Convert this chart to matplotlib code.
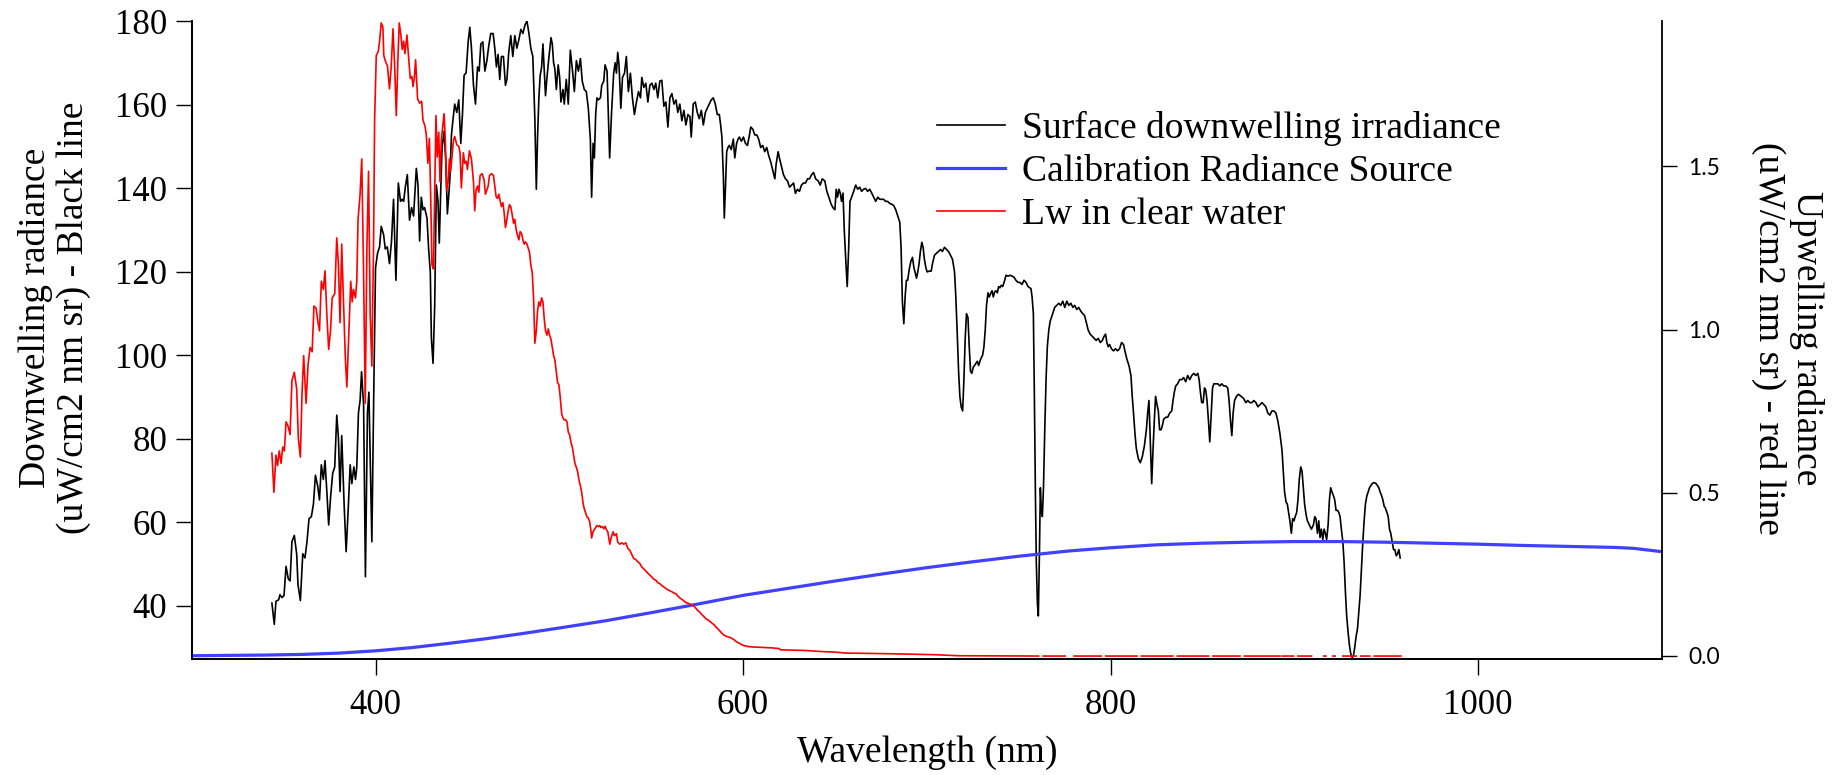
import numpy as np
import matplotlib
matplotlib.use("Agg")
import matplotlib.pyplot as plt

plt.rcParams['font.family'] = ['Liberation Serif', 'DejaVu Serif']

# Surface downwelling irradiance (left axis)
black_wl = [343.6, 344.9, 345.8, 347.3, 348.0, 349.1, 350.2, 351.3, 352.5, 353.5, 354.5, 355.8, 357.1, 357.8, 359.1,
            360.4, 361.6, 362.7, 363.8, 365.1, 366.2, 367.3, 368.5, 369.5, 370.5, 371.6, 372.5, 373.5, 374.5, 375.6,
            376.7, 377.8, 378.9, 379.8, 380.7, 381.6, 382.9, 384.0, 385.1, 386.2, 387.1, 388.2, 389.1, 389.8, 390.7,
            391.6, 392.4, 393.5, 394.5, 395.6, 396.4, 398.0, 399.1, 400.0, 401.1, 402.2, 403.1, 404.4, 405.3, 406.4,
            407.6, 408.7, 409.8, 411.1, 412.4, 413.6, 414.5, 415.3, 416.2, 417.3, 418.5, 419.6, 420.7, 422.2, 423.1,
            424.0, 424.9, 425.8, 426.7, 428.0, 428.9, 429.8, 430.4, 431.3, 432.2, 433.1, 434.0, 434.7, 435.5, 436.2,
            437.3, 438.2, 439.1, 440.4, 441.3, 442.2, 443.1, 444.2, 445.3, 446.4, 447.3, 448.2, 449.3, 450.4, 451.3,
            452.2, 453.3, 454.4, 455.5, 456.4, 457.3, 458.4, 459.5, 460.6, 461.6, 462.7, 464.0, 464.9, 465.8, 466.7,
            467.6, 468.5, 469.6, 470.7, 471.5, 472.5, 473.6, 474.7, 475.8, 476.9, 478.0, 479.1, 480.2, 481.3, 482.4,
            483.5, 484.5, 485.6, 486.7, 487.5, 488.2, 488.9, 489.6, 490.4, 491.1, 491.8, 492.5, 493.3, 494.4, 495.5,
            496.2, 496.9, 497.6, 498.4, 499.4, 500.2, 500.9, 502.0, 502.7, 503.8, 504.9, 506.0, 507.1, 508.2, 509.3,
            510.4, 511.5, 512.5, 513.6, 514.7, 515.8, 516.9, 517.6, 518.4, 519.1, 519.8, 520.5, 521.3, 522.4, 523.1,
            524.2, 524.9, 526.0, 527.4, 528.5, 529.6, 530.4, 531.1, 531.8, 532.5, 533.5, 534.4, 535.5, 536.5, 537.6,
            538.7, 539.8, 540.9, 542.0, 543.1, 544.2, 544.9, 546.0, 547.1, 548.2, 549.3, 550.4, 551.5, 552.5, 553.6,
            554.7, 555.8, 556.9, 558.0, 559.1, 560.2, 561.3, 562.4, 563.5, 564.5, 565.6, 566.7, 567.8, 568.9, 570.0,
            571.1, 571.8, 572.9, 574.0, 575.1, 576.2, 577.3, 578.4, 579.5, 580.5, 581.6, 582.7, 583.8, 584.9, 586.0,
            587.1, 587.8, 588.5, 589.3, 589.8, 590.4, 591.1, 591.8, 592.5, 593.6, 594.7, 595.5, 596.5, 597.3, 598.0,
            599.1, 600.2, 601.3, 602.4, 603.5, 604.2, 605.3, 606.4, 607.5, 608.5, 609.6, 610.7, 611.8, 612.9, 614.0,
            615.1, 616.2, 617.3, 618.0, 619.1, 619.8, 620.9, 622.0, 623.1, 624.2, 625.3, 626.4, 627.5, 628.5, 629.6,
            630.7, 631.8, 632.9, 634.0, 635.1, 636.2, 637.3, 638.4, 639.5, 640.9, 642.0, 643.1, 644.5, 645.6, 646.7,
            647.8, 648.9, 650.0, 650.7, 651.4, 652.2, 652.9, 653.6, 654.4, 655.1, 656.0, 656.7, 657.5, 658.2, 659.1,
            660.2, 661.3, 662.4, 663.5, 664.5, 665.6, 666.7, 667.8, 668.9, 670.0, 671.1, 672.2, 673.3, 674.4, 675.4,
            676.5, 677.6, 678.7, 679.8, 681.0, 682.0, 683.1, 684.2, 685.3, 686.0, 686.7, 687.5, 688.2, 688.9, 689.6,
            690.4, 691.3, 692.2, 693.0, 693.6, 694.4, 695.1, 695.8, 696.5, 697.3, 698.0, 698.7, 699.5, 700.2, 701.3,
            702.4, 703.1, 704.2, 705.3, 706.4, 707.5, 708.5, 709.6, 710.7, 711.8, 712.9, 714.0, 715.1, 715.8, 716.5,
            717.3, 718.0, 718.7, 719.5, 720.2, 720.9, 721.6, 722.4, 723.1, 723.8, 724.5, 725.3, 726.0, 726.7, 727.5,
            728.2, 729.3, 730.4, 731.1, 731.8, 732.5, 733.3, 734.0, 734.7, 735.5, 736.2, 736.9, 737.6, 738.4, 739.1,
            739.8, 740.5, 741.3, 742.4, 743.1, 744.2, 745.3, 746.4, 747.5, 748.5, 749.6, 750.7, 751.8, 752.9, 754.0,
            755.1, 756.7, 757.3, 758.0, 758.5, 759.1, 759.6, 760.2, 760.7, 761.3, 761.8, 762.4, 762.9, 763.5, 764.2,
            764.9, 765.6, 766.4, 767.1, 767.8, 768.5, 769.6, 770.7, 771.8, 772.9, 774.0, 775.1, 776.2, 777.3, 778.4,
            779.5, 780.5, 781.6, 782.7, 783.8, 784.9, 785.8, 786.7, 787.8, 788.9, 790.0, 791.1, 792.2, 793.3, 794.4,
            795.5, 796.5, 797.3, 798.0, 798.7, 799.5, 800.5, 801.6, 802.7, 803.8, 804.9, 806.0, 807.1, 807.8, 808.9,
            810.0, 811.1, 811.8, 812.5, 813.3, 814.0, 815.1, 816.2, 817.3, 818.4, 819.5, 820.2, 820.9, 821.6, 822.4,
            823.1, 823.8, 824.5, 825.3, 826.0, 826.7, 827.5, 828.2, 828.9, 830.0, 831.1, 832.2, 833.3, 834.0, 834.7,
            835.5, 836.5, 837.6, 838.7, 839.8, 840.9, 842.0, 843.1, 844.2, 845.3, 846.4, 847.5, 848.2, 848.9, 849.6,
            850.4, 851.1, 851.8, 852.5, 853.3, 854.0, 854.7, 855.5, 856.2, 857.3, 858.4, 859.5, 860.5, 861.6, 862.7,
            863.8, 864.5, 865.3, 866.0, 866.7, 867.5, 868.5, 869.6, 871.1, 872.4, 873.6, 874.7, 875.8, 876.9, 878.0,
            879.1, 880.2, 881.3, 882.4, 883.5, 884.5, 885.6, 886.7, 887.8, 888.9, 890.0, 891.1, 892.2, 893.3, 894.0,
            894.7, 895.5, 896.2, 896.9, 897.6, 898.4, 899.1, 899.8, 900.5, 901.3, 902.0, 902.7, 903.5, 904.2, 904.9,
            905.6, 906.4, 907.1, 908.2, 909.3, 910.4, 911.1, 911.8, 912.6, 913.3, 914.0, 914.7, 915.5, 916.2, 916.9,
            917.6, 918.4, 919.1, 919.8, 920.5, 921.3, 922.0, 922.7, 923.5, 924.2, 924.9, 925.6, 926.4, 927.1, 927.8,
            928.5, 929.3, 930.0, 930.7, 931.5, 932.2, 932.9, 933.6, 934.4, 935.1, 935.8, 936.5, 937.3, 938.0, 938.7,
            939.5, 940.2, 940.9, 941.6, 942.4, 943.1, 943.8, 944.5, 945.3, 946.0, 946.7, 947.5, 948.2, 948.9, 949.6,
            950.4, 951.1, 951.8, 952.5, 953.3, 954.0, 954.7, 955.5, 956.2, 956.9, 957.6]
black_val = [40.6, 35.5, 41.0, 41.4, 42.6, 41.9, 42.4, 49.4, 46.4, 45.9, 55.3, 56.8, 52.3, 45.0, 41.2,
             52.4, 51.4, 55.3, 60.8, 61.3, 64.3, 71.2, 68.7, 65.3, 73.7, 70.2, 74.7, 67.3, 59.3, 66.3,
             71.7, 73.2, 85.6, 80.2, 67.3, 80.7, 64.3, 52.9, 62.8, 73.7, 69.2, 73.2, 70.2, 73.2, 86.1,
             89.1, 96.0, 88.1, 46.9, 86.1, 91.1, 55.3, 93.1, 120.9, 124.4, 125.9, 130.8, 128.8, 125.4, 125.9,
             121.9, 127.3, 137.3, 117.9, 141.2, 136.8, 137.3, 136.8, 140.2, 143.2, 132.3, 135.3, 133.3, 144.7, 140.7,
             127.3, 137.8, 134.8, 135.3, 132.8, 125.4, 119.9, 104.0, 98.0, 111.9, 140.7, 136.8, 126.8, 139.7, 149.7,
             153.6, 146.7, 133.8, 141.7, 152.6, 156.6, 160.1, 158.1, 161.1, 150.7, 157.6, 167.0, 167.6, 175.0, 178.5,
             173.5, 164.6, 160.1, 169.0, 168.0, 174.5, 175.0, 168.0, 170.5, 174.0, 177.0, 177.0, 173.5, 169.0, 172.0,
             166.0, 171.5, 171.5, 164.6, 166.0, 172.5, 176.5, 171.5, 176.5, 173.5, 175.5, 178.0, 177.0, 179.0, 180.0,
             177.0, 173.5, 171.5, 156.6, 139.7, 152.6, 161.6, 167.0, 169.0, 174.5, 168.5, 162.1, 166.5, 171.5, 176.0,
             174.5, 170.0, 168.5, 163.6, 169.5, 166.5, 160.6, 163.6, 160.1, 166.0, 160.1, 173.0, 168.5, 163.1, 170.5,
             168.0, 171.0, 165.6, 163.6, 163.1, 159.1, 151.7, 137.8, 150.7, 147.2, 157.6, 161.6, 161.1, 161.6, 164.6,
             165.6, 169.5, 168.0, 147.2, 158.6, 167.5, 170.0, 167.5, 172.5, 169.5, 159.1, 166.5, 167.5, 171.5, 163.1,
             167.5, 161.6, 157.6, 160.6, 163.1, 161.6, 166.5, 164.1, 165.1, 160.6, 164.6, 165.1, 163.6, 165.1, 161.6,
             165.6, 165.8, 159.6, 160.6, 154.6, 161.6, 162.6, 160.1, 161.1, 158.1, 160.1, 156.1, 158.6, 155.1, 157.6,
             157.1, 152.2, 160.1, 160.6, 158.1, 156.6, 158.6, 155.1, 158.1, 159.1, 160.1, 161.1, 161.6, 160.1, 157.6,
             157.6, 155.1, 152.2, 142.7, 132.8, 139.7, 148.7, 149.7, 150.2, 149.2, 151.7, 147.2, 150.7, 151.7, 152.2,
             151.2, 152.2, 150.7, 150.2, 152.7, 154.6, 154.1, 152.7, 152.7, 151.7, 149.7, 150.2, 148.7, 149.7, 147.7,
             146.2, 144.2, 142.2, 145.7, 148.7, 147.2, 145.2, 143.2, 142.2, 141.7, 140.2, 140.7, 141.2, 138.7, 139.7,
             139.2, 140.7, 141.2, 141.2, 142.2, 142.2, 143.2, 143.7, 142.2, 141.7, 140.7, 142.2, 141.7, 139.2, 137.8,
             136.3, 135.3, 134.8, 139.7, 137.8, 139.7, 138.8, 136.8, 138.8, 129.8, 121.9, 116.4, 125.8, 136.8, 137.8,
             139.2, 140.7, 139.7, 140.2, 139.2, 139.7, 139.9, 139.2, 139.7, 138.8, 137.8, 136.8, 137.8, 137.3, 137.3,
             137.3, 136.8, 136.8, 136.3, 136.1, 135.8, 134.8, 133.3, 131.8, 125.8, 112.9, 107.5, 113.9, 117.9, 117.9,
             120.4, 122.4, 123.4, 120.9, 119.9, 118.4, 119.9, 121.9, 124.8, 127.0, 125.8, 122.9, 120.9, 119.9, 120.1,
             120.1, 121.9, 123.9, 124.4, 124.8, 125.3, 124.8, 125.8, 125.3, 124.8, 123.9, 122.9, 119.9, 113.9, 106.0,
             96.1, 90.1, 87.6, 86.6, 94.1, 104.0, 109.9, 109.0, 102.0, 96.1, 95.6, 97.1, 97.5, 98.0, 98.5,
             97.5, 99.0, 100.0, 102.0, 106.0, 111.9, 114.9, 113.9, 114.7, 115.4, 113.9, 115.1, 115.4, 114.9, 116.4,
             116.1, 116.7, 116.4, 117.9, 119.1, 118.9, 119.1, 118.9, 118.6, 117.9, 117.4, 117.4, 116.9, 117.9, 117.4,
             116.4, 115.9, 113.9, 109.9, 92.1, 67.2, 50.4, 40.4, 37.5, 52.4, 68.2, 62.3, 61.3, 68.2, 82.1,
             94.1, 102.0, 106.0, 108.0, 109.0, 109.9, 111.4, 111.9, 112.4, 111.9, 112.9, 111.4, 112.9, 111.9, 112.4,
             111.4, 111.9, 110.9, 111.4, 110.5, 109.9, 109.5, 108.0, 106.0, 105.0, 104.5, 104.0, 103.5, 104.0, 103.0,
             103.5, 104.5, 105.0, 103.0, 102.0, 102.5, 101.5, 101.0, 101.5, 101.0, 101.5, 103.0, 102.5, 101.0, 99.0,
             97.5, 95.1, 90.1, 86.1, 81.1, 77.7, 75.2, 74.2, 75.7, 78.2, 82.1, 86.1, 89.1, 80.1, 69.2,
             77.2, 84.1, 90.1, 88.1, 86.6, 82.1, 82.1, 83.1, 84.6, 85.1, 85.1, 86.1, 86.6, 89.1, 91.1,
             92.6, 93.1, 94.1, 94.1, 94.6, 93.6, 95.1, 94.1, 95.1, 95.6, 95.1, 95.6, 94.1, 91.1, 88.6,
             88.6, 92.1, 91.6, 89.1, 84.1, 79.2, 85.1, 92.1, 93.1, 93.1, 93.1, 92.6, 93.1, 92.6, 92.6,
             92.1, 89.1, 84.1, 80.7, 86.1, 89.1, 90.1, 90.6, 90.1, 89.6, 88.6, 89.1, 88.6, 88.6, 89.1,
             88.6, 87.6, 88.1, 88.6, 88.1, 87.6, 86.1, 85.6, 86.6, 86.6, 86.1, 84.1, 81.1, 77.2, 72.2,
             67.2, 64.8, 64.3, 62.3, 60.3, 57.3, 60.8, 60.3, 61.3, 62.3, 65.3, 70.2, 73.2, 72.2, 68.2,
             64.3, 61.8, 60.3, 59.3, 58.3, 59.3, 61.3, 60.8, 57.3, 60.3, 56.3, 58.3, 55.8, 58.3, 57.3,
             55.8, 59.3, 65.3, 68.2, 67.2, 66.3, 65.3, 62.8, 62.8, 62.3, 61.3, 58.3, 55.3, 50.4, 43.4,
             37.5, 33.5, 30.5, 28.5, 27.5, 28.0, 30.0, 32.5, 34.5, 38.4, 42.4, 48.4, 55.3, 60.3, 64.3,
             66.3, 67.2, 68.2, 68.7, 69.2, 69.4, 69.4, 69.2, 68.7, 68.2, 67.2, 66.3, 65.3, 63.8, 63.3,
             62.3, 61.3, 58.3, 57.3, 55.3, 53.4, 53.4, 51.9, 52.4, 53.4, 51.4]

# Lw in clear water (right axis); nan = no data drawn
red_wl = [343.6, 344.7, 345.8, 346.7, 347.6, 348.6, 349.5, 350.4, 351.3, 352.4, 353.5, 354.5, 355.8, 357.1, 358.0,
          359.1, 360.0, 360.9, 362.2, 363.3, 364.4, 365.5, 366.5, 367.6, 368.7, 369.5, 370.5, 371.6, 372.5, 373.5,
          374.5, 375.5, 376.4, 377.8, 378.9, 379.8, 380.7, 381.6, 382.5, 383.6, 384.4, 385.5, 386.5, 387.3, 388.0,
          389.1, 389.8, 390.5, 391.6, 392.5, 393.5, 394.4, 395.3, 396.2, 397.1, 398.0, 398.9, 399.5, 400.4, 401.5,
          402.2, 403.1, 404.0, 404.5, 405.5, 406.5, 407.6, 408.5, 409.5, 410.4, 411.3, 412.2, 412.9, 413.8, 414.5,
          415.3, 416.0, 417.1, 418.0, 418.9, 419.8, 420.4, 421.1, 421.8, 422.9, 424.0, 425.1, 425.8, 426.9, 427.6,
          428.5, 429.3, 430.0, 430.7, 431.5, 432.2, 432.9, 433.6, 434.4, 435.1, 435.8, 436.5, 437.3, 438.0, 438.7,
          439.5, 440.2, 440.9, 441.6, 442.4, 443.1, 444.2, 445.3, 446.0, 446.7, 447.8, 448.5, 449.3, 450.0, 451.1,
          452.2, 453.3, 454.0, 454.7, 455.5, 456.2, 456.9, 458.0, 459.1, 459.8, 460.5, 461.3, 462.0, 463.1, 464.2,
          464.9, 465.6, 466.4, 467.1, 467.8, 468.5, 469.3, 470.0, 470.7, 471.5, 472.2, 472.9, 473.6, 474.4, 475.1,
          475.8, 476.5, 477.3, 478.0, 478.7, 479.5, 480.2, 480.9, 481.6, 482.4, 483.1, 483.8, 484.5, 485.3, 486.0,
          486.7, 487.5, 488.2, 488.9, 489.6, 490.4, 491.1, 491.8, 492.5, 493.3, 494.0, 494.7, 495.5, 496.2, 496.9,
          497.6, 498.4, 499.1, 499.8, 500.5, 501.3, 502.0, 502.7, 503.5, 504.2, 504.9, 505.6, 506.4, 507.1, 507.8,
          508.5, 509.3, 510.0, 510.7, 511.5, 512.2, 512.9, 513.6, 514.4, 515.1, 515.8, 516.5, 517.3, 517.6, 518.4,
          519.1, 519.8, 520.5, 521.3, 522.0, 522.7, 523.5, 524.2, 524.9, 525.6, 526.4, 527.5, 528.2, 529.3, 530.0,
          531.1, 531.8, 532.9, 534.0, 535.1, 536.2, 537.3, 538.4, 539.5, 540.5, 541.6, 542.7, 543.8, 544.9, 546.0,
          547.1, 548.2, 549.3, 550.4, 551.5, 552.5, 553.6, 554.7, 555.8, 556.9, 558.0, 559.1, 560.2, 561.3, 562.4,
          563.5, 564.5, 565.6, 566.7, 567.8, 568.9, 570.0, 571.1, 572.2, 573.3, 574.4, 575.5, 576.5, 577.6, 578.7,
          579.8, 580.9, 582.0, 583.1, 584.2, 585.3, 586.4, 587.5, 588.5, 589.6, 590.7, 592.9, 594.0, 595.1, 596.2,
          597.3, 598.4, 599.5, 600.5, 601.6, 602.7, 604.9, 608.5, 612.0, 615.8, 619.5, 620.4, 626.7, 634.0, 642.2,
          650.0, 656.6, 670.0, 690.0, 705.0, 716.9, 760.8, 762.0, 763.3, 775.3, 777.7, 780.2, 794.9, 796.1, 797.4,
          814.4, 815.6, 816.8, 833.9, 835.1, 836.3, 853.3, 854.5, 855.8, 870.4, 871.6, 872.9, 892.3, 892.9, 893.5,
          899.6, 900.8, 902.0, 909.4, 913.0, 916.0, 917.2, 919.4, 921.0, 922.2, 924.3, 926.4, 933.7, 935.0, 936.2,
          941.0, 942.2, 943.5, 958.0]
nan = np.nan
red_val = [0.621, 0.501, 0.615, 0.583, 0.628, 0.590, 0.640, 0.628, 0.717, 0.704, 0.678, 0.843, 0.869, 0.818, 0.666,
           0.609, 0.805, 0.920, 0.774, 0.894, 0.945, 0.932, 1.072, 1.066, 1.021, 0.996, 1.148, 1.123, 1.180, 1.047,
           0.939, 0.996, 1.097, 1.110, 1.281, 1.199, 1.021, 1.262, 1.097, 0.907, 0.824, 0.996, 1.148, 1.085, 1.123,
           1.097, 1.148, 1.339, 1.415, 1.523, 1.174, 0.774, 1.250, 1.485, 1.047, 0.888, 1.250, 1.643, 1.840, 1.853,
           1.884, 1.940, 1.928, 1.840, 1.821, 1.808, 1.738, 1.802, 1.922, 1.808, 1.656, 1.834, 1.940, 1.903, 1.859,
           1.884, 1.846, 1.903, 1.834, 1.770, 1.776, 1.745, 1.770, 1.827, 1.707, 1.694, 1.700, 1.643, 1.624, 1.599,
           1.510, 1.586, 1.415, 1.199, 1.186, 1.415, 1.656, 1.529, 1.605, 1.453, 1.580, 1.618, 1.662, 1.580, 1.427,
           1.453, 1.523, 1.485, 1.529, 1.580, 1.592, 1.567, 1.561, 1.542, 1.434, 1.542, 1.510, 1.516, 1.491, 1.548,
           1.523, 1.453, 1.364, 1.427, 1.440, 1.421, 1.472, 1.478, 1.459, 1.415, 1.427, 1.440, 1.472, 1.478, 1.472,
           1.440, 1.408, 1.402, 1.415, 1.396, 1.377, 1.389, 1.358, 1.313, 1.338, 1.364, 1.383, 1.377, 1.351, 1.326,
           1.338, 1.307, 1.288, 1.275, 1.300, 1.294, 1.275, 1.262, 1.269, 1.262, 1.250, 1.237, 1.199, 1.174, 1.097,
           0.958, 0.996, 1.059, 1.085, 1.072, 1.097, 1.085, 1.034, 0.996, 0.983, 1.002, 0.983, 0.970, 0.945, 0.920,
           0.907, 0.869, 0.837, 0.831, 0.793, 0.742, 0.729, 0.723, 0.723, 0.717, 0.685, 0.678, 0.653, 0.640, 0.615,
           0.590, 0.577, 0.564, 0.539, 0.520, 0.501, 0.469, 0.450, 0.437, 0.425, 0.422, 0.412, 0.380, 0.361, 0.380,
           0.387, 0.393, 0.399, 0.396, 0.399, 0.393, 0.396, 0.389, 0.397, 0.387, 0.380, 0.342, 0.361, 0.380, 0.368,
           0.374, 0.348, 0.342, 0.346, 0.342, 0.346, 0.329, 0.323, 0.310, 0.298, 0.295, 0.288, 0.283, 0.272, 0.266,
           0.260, 0.253, 0.247, 0.241, 0.234, 0.232, 0.224, 0.221, 0.215, 0.211, 0.206, 0.202, 0.199, 0.196, 0.192,
           0.190, 0.183, 0.177, 0.173, 0.168, 0.163, 0.161, 0.158, 0.156, 0.152, 0.145, 0.138, 0.133, 0.126, 0.120,
           0.113, 0.110, 0.105, 0.100, 0.095, 0.088, 0.082, 0.075, 0.069, 0.063, 0.060, 0.056, 0.053, 0.049, 0.044,
           0.040, 0.037, 0.033, 0.031, 0.030, 0.028, 0.027, 0.026, 0.025, 0.024, 0.022, 0.018, 0.017, 0.016, 0.013,
           0.011, 0.008, 0.007, 0.005, 0.003, 0.000, -0.001, nan, -0.001, -0.001, nan, -0.001, -0.001, nan, -0.001,
           -0.001, nan, -0.001, -0.001, nan, -0.001, -0.001, nan, -0.001, -0.001, nan, -0.001, -0.001, nan, -0.001,
           -0.001, nan, -0.001, -0.001, nan, -0.001, -0.001, nan, -0.001, -0.001, nan, -0.001, -0.001, nan, -0.001,
           -0.001, nan, -0.001, -0.001]

# Calibration Radiance Source (right axis)
blue_wl = [300, 320, 340, 360, 380, 400, 420, 440, 460, 480, 500, 525, 550, 575, 600, 625, 650, 675, 700,
           725, 750, 777, 800, 825, 850, 875, 900, 925, 950, 975, 1000, 1025, 1050, 1075, 1085, 1100]
blue_val = [0.0, 0.001, 0.002, 0.004, 0.008, 0.015, 0.025, 0.038, 0.052, 0.068, 0.085, 0.107, 0.132, 0.158,
            0.185, 0.207, 0.229, 0.250, 0.270, 0.288, 0.305, 0.321, 0.331, 0.340, 0.345, 0.348, 0.350, 0.350,
            0.348, 0.345, 0.342, 0.338, 0.335, 0.332, 0.329, 0.319]

x_ticks = [400, 600, 800, 1000]
left_ticks = [40, 60, 80, 100, 120, 140, 160, 180]
right_ticks = [0.0, 0.5, 1.0, 1.5]

fig = plt.figure(figsize=(18.44, 7.75), dpi=100)
ax = fig.add_axes([0.1040, 0.1497, 0.7972, 0.8232])
ax2 = ax.twinx()

l1, = ax.plot(black_wl, black_val, color='black', lw=1.2)
l2, = ax2.plot(blue_wl, blue_val, color='#4040ff', lw=2.3)
l3, = ax2.plot(red_wl, red_val, color='#ff0000', lw=1.2)

ax.set_xlim(300, 1100)
ax.set_ylim(27.2, 180)
ax2.set_ylim(-0.01, 1.946)

ax.set_xticks(x_ticks)
ax.set_yticks(left_ticks)
ax2.set_yticks(right_ticks)
ax2.set_yticklabels(['%.1f' % t for t in right_ticks], family='Lato', fontsize=16.5)

for a in (ax, ax2):
    a.spines['top'].set_visible(False)
    for s in a.spines.values():
        s.set_linewidth(1.3)
ax.spines['right'].set_visible(False)

ax.tick_params(axis='x', direction='out', length=11.5, width=1.0, labelsize=25, pad=10)
ax.tick_params(axis='y', direction='out', length=11.5, width=1.0, labelsize=25, pad=6)
ax2.tick_params(axis='y', direction='out', length=11, width=1.0, pad=8)

ax.set_xlabel('Wavelength (nm)', fontsize=27)
ax.xaxis.set_label_coords(0.5, -0.12)
ax.set_ylabel('Downwelling radiance\n(uW/cm2 nm sr) - Black line', fontsize=27,
              linespacing=1.1, ha='center', va='center')
ax.yaxis.set_label_coords(-0.0933, 0.5345)
ax2.set_ylabel('Upwelling radiance\n(uW/cm2 nm sr) - red line', fontsize=27,
               linespacing=1.1, rotation=270, ha='center', va='center')
ax2.yaxis.set_label_coords(1.0856, 0.5023)

ax2.legend([l1, l2, l3], ['Surface downwelling irradiance', 'Calibration Radiance Source', 'Lw in clear water'],
           loc='upper left', bbox_to_anchor=(0.508, 0.857), bbox_transform=fig.transFigure,
           frameon=False, fontsize=27, handlelength=1.82, handletextpad=0.46,
           labelspacing=0.225, borderpad=0, borderaxespad=0)

fig.savefig('out.png', dpi=100)
